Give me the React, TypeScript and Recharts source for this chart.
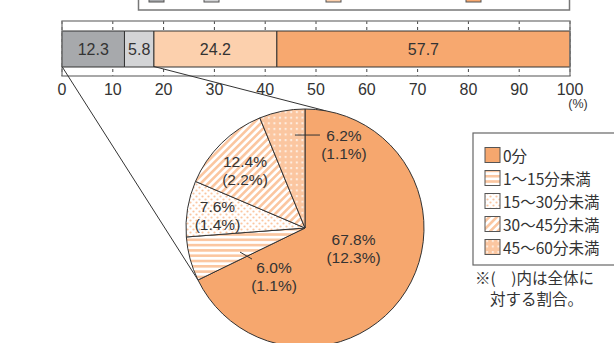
import React from 'react';
import { BarChart, Bar, XAxis, YAxis, CartesianGrid, LabelList, PieChart, Pie, Cell } from 'recharts';

// ---------- data ----------
const barKeys = ['s1', 's2', 's3', 's4'];
const barValues = [12.3, 5.8, 24.2, 57.7];
const barColors = ['#a7a9ac', '#d3d4d6', '#fcd0ad', '#f7a86f'];
const axisTicks = [0, 10, 20, 30, 40, 50, 60, 70, 80, 90, 100];

const pieCategories = ['0分', '1～15分未満', '15～30分未満', '30～45分未満', '45～60分未満'];
const pieShares = [67.8, 6.0, 7.6, 12.4, 6.2];
const pieOverall = [12.3, 1.1, 1.4, 2.2, 1.1];
const pieFills = ['#f6a76e', 'url(#pStripeH)', 'url(#pDots)', 'url(#pDiag)', 'url(#pCircles)'];

const noteLines = ['※(　)内は全体に', '対する割合。'];

// ---------- layout ----------
const W = 614;
const H = 343;
const FONT = '"Noto Sans CJK JP", "Noto Sans", sans-serif';
const NUMFONT = '"Liberation Sans", Arial, sans-serif';
const TXT = '#333333';
const PEACH = '#fbc6a0';

const BAR_H = 110;
const PLOT_L = 62;
const PLOT_R = 570;
const PLOT_T = 21;
const PLOT_B = 76;
const BAR_SIZE = 36;

const PIE_CX = 305;
const PIE_CY = 228;
const PIE_R = 119;

const barRow = [
  barKeys.reduce((o: any, k, i) => {
    o[k] = barValues[i];
    return o;
  }, { name: 'all' }),
];

const pieData = pieCategories.map((name, i) => ({ name, value: pieShares[i], overall: pieOverall[i] }));

// label placement per slice: angle shift (deg), radius (px), leader vector, text offset from anchor
const labelCfg = [
  { shift: 9.6, r: 52.5, lead: null as null | number[], text: [0, 0] },
  { shift: 5.2, r: 69.3, lead: [12, 7], text: [34, 24.5] },
  { shift: 1.2, r: 88.4, lead: null, text: [0, 0] },
  { shift: 1.6, r: 83.1, lead: null, text: [0, 0] },
  { shift: -5, r: 93.5, lead: [25, 0], text: [49, 9.5] },
];

const RAD = Math.PI / 180;
const xScale = (v: number) => PLOT_L + ((PLOT_R - PLOT_L) * v) / 100;

function cumBefore(i: number) {
  let before = 0;
  for (let k = 0; k < i; k++) before += pieShares[k];
  return before;
}
const pieTotal = pieShares.reduce((a, b) => a + b, 0);
function midAngleOf(i: number) {
  return 90 - (360 * (cumBefore(i) + pieShares[i] / 2)) / pieTotal;
}
function boundaryAngle(i: number) {
  return 90 - (360 * cumBefore(i)) / pieTotal;
}

const LINE_GAP = 9;

const renderPieLabel = (props: any) => {
  const i = props.index;
  const cx = typeof props.cx === 'number' ? props.cx : PIE_CX;
  const cy = typeof props.cy === 'number' ? props.cy : PIE_CY;
  const cfg = labelCfg[i];
  const a = (midAngleOf(i) + cfg.shift) * RAD;
  const px = cx + cfg.r * Math.cos(a);
  const py = cy - cfg.r * Math.sin(a);
  const tx = px + cfg.text[0];
  const ty = py + cfg.text[1];
  return (
    <g key={'lbl' + i}>
      {cfg.lead && (
        <line x1={px} y1={py} x2={px + cfg.lead[0]} y2={py + cfg.lead[1]} stroke="#333" strokeWidth={1} />
      )}
      <text x={tx} y={ty - LINE_GAP} textAnchor="middle" dominantBaseline="central" fontSize={15.5} fill={TXT} fontFamily={NUMFONT}>
        {`${pieShares[i].toFixed(1)}%`}
      </text>
      <text x={tx} y={ty + LINE_GAP} textAnchor="middle" dominantBaseline="central" fontSize={15.5} fill={TXT} fontFamily={NUMFONT}>
        {`(${pieOverall[i].toFixed(1)}%)`}
      </text>
    </g>
  );
};

const topSwatchX = [149, 204, 326, 466];

export default function App() {
  const barTop = PLOT_T + (PLOT_B - PLOT_T - BAR_SIZE) / 2;
  const barBottom = barTop + BAR_SIZE;
  const a0 = boundaryAngle(1) * RAD;
  const line1End = [PIE_CX + PIE_R * Math.cos(a0), PIE_CY - PIE_R * Math.sin(a0)];
  const a1 = 80 * RAD;
  const line2End = [PIE_CX + PIE_R * Math.cos(a1), PIE_CY - PIE_R * Math.sin(a1)];
  const cum2 = barValues[0] + barValues[1];

  return (
    <div style={{ position: 'absolute', left: 0, top: 0, width: W, height: H, background: '#fff', overflow: 'hidden', fontFamily: FONT }}>
      {/* top stacked bar */}
      <div style={{ position: 'absolute', left: 0, top: 0 }}>
        <BarChart
          width={W}
          height={BAR_H}
          data={barRow}
          layout="vertical"
          margin={{ top: PLOT_T, right: W - PLOT_R, left: PLOT_L, bottom: BAR_H - PLOT_B - 30 }}
          barSize={BAR_SIZE}
        >
          <CartesianGrid horizontal={false} stroke="#444" strokeDasharray="3 3" />
          <XAxis
            type="number"
            domain={[0, 100]}
            ticks={axisTicks}
            interval={0}
            axisLine={false}
            tickLine={false}
            height={30}
            tick={{ fontSize: 16, fill: TXT, fontFamily: NUMFONT }}
          />
          <YAxis type="category" dataKey="name" hide />
          {barKeys.map((k, i) => (
            <Bar key={k} dataKey={k} stackId="a" fill={barColors[i]} stroke="#333" strokeWidth={1} isAnimationActive={false}>
              <LabelList dataKey={k} position="center" fill={TXT} fontSize={16} fontFamily={NUMFONT} />
            </Bar>
          ))}
        </BarChart>
      </div>

      {/* connector lines + frame + legends (under pie) */}
      <svg width={W} height={H} style={{ position: 'absolute', left: 0, top: 0, pointerEvents: 'none' }}>
        <defs>
          <pattern id="pStripeH" patternUnits="userSpaceOnUse" width={10} height={5.3}>
            <rect width={10} height={5.3} fill="#fff" />
            <rect y={0} width={10} height={2.6} fill={PEACH} />
          </pattern>
          <pattern id="pDots" patternUnits="userSpaceOnUse" width={6} height={6}>
            <rect width={6} height={6} fill="#fff" />
            <circle cx={1.5} cy={1.5} r={1.1} fill={PEACH} />
            <circle cx={4.5} cy={4.5} r={1.1} fill={PEACH} />
          </pattern>
          <pattern id="pDiag" patternUnits="userSpaceOnUse" width={5.3} height={10} patternTransform="rotate(45)">
            <rect width={5.3} height={10} fill="#fff" />
            <rect x={0} width={2.6} height={10} fill={PEACH} />
          </pattern>
          <pattern id="pCircles" patternUnits="userSpaceOnUse" width={5.6} height={5.6}>
            <rect width={5.6} height={5.6} fill="#fff" />
            <circle cx={2.8} cy={2.8} r={3.0} fill={PEACH} />
          </pattern>
        </defs>

        {/* truncated legend box at top */}
        <rect x={138.5} y={-30} width={431} height={40} fill="none" stroke="#777" strokeWidth={1.5} />
        {topSwatchX.map((x, i) => (
          <rect key={i} x={x} y={-13} width={15} height={15} fill={barColors[i]} stroke="#555" strokeWidth={1} />
        ))}

        {/* bar frame */}
        <rect x={PLOT_L} y={PLOT_T} width={PLOT_R - PLOT_L} height={PLOT_B - PLOT_T} fill="none" stroke="#7a7a7a" strokeWidth={1.3} />
        <text x={578} y={104} textAnchor="middle" dominantBaseline="central" fontSize={12.5} fill={TXT} fontFamily={NUMFONT}>
          (%)
        </text>

        {/* connectors */}
        <line x1={xScale(0)} y1={barBottom} x2={line1End[0]} y2={line1End[1]} stroke="#333" strokeWidth={1} />
        <line x1={xScale(cum2)} y1={barBottom} x2={line2End[0]} y2={line2End[1]} stroke="#333" strokeWidth={1} />

        {/* pie legend */}
        <rect x={473} y={133} width={160} height={132} fill="#fff" stroke="#666" strokeWidth={1.2} />
        {pieCategories.map((c, i) => {
          const cy = 155 + i * 23;
          return (
            <g key={c}>
              <rect x={485} y={cy - 7.5} width={15} height={15} fill={pieFills[i]} stroke="#555" strokeWidth={1} />
              <text x={503} y={cy} dominantBaseline="central" fontSize={15.5} fill={TXT} fontFamily={FONT}>
                {c}
              </text>
            </g>
          );
        })}
        <text x={475} y={277} dominantBaseline="central" fontSize={15.5} fill={TXT} fontFamily={FONT}>
          {noteLines[0]}
        </text>
        <text x={490} y={298} dominantBaseline="central" fontSize={15.5} fill={TXT} fontFamily={FONT}>
          {noteLines[1]}
        </text>
      </svg>

      {/* pie */}
      <div style={{ position: 'absolute', left: 0, top: 0 }}>
        <PieChart width={W} height={H} margin={{ top: 0, right: 0, bottom: 0, left: 0 }}>
          <Pie
            data={pieData}
            dataKey="value"
            nameKey="name"
            cx={PIE_CX}
            cy={PIE_CY}
            outerRadius={PIE_R}
            startAngle={90}
            endAngle={-270}
            stroke="#333"
            strokeWidth={1}
            label={renderPieLabel}
            labelLine={false}
            isAnimationActive={false}
          >
            {pieData.map((d, i) => (
              <Cell key={d.name} fill={pieFills[i]} />
            ))}
          </Pie>
        </PieChart>
      </div>
    </div>
  );
}
